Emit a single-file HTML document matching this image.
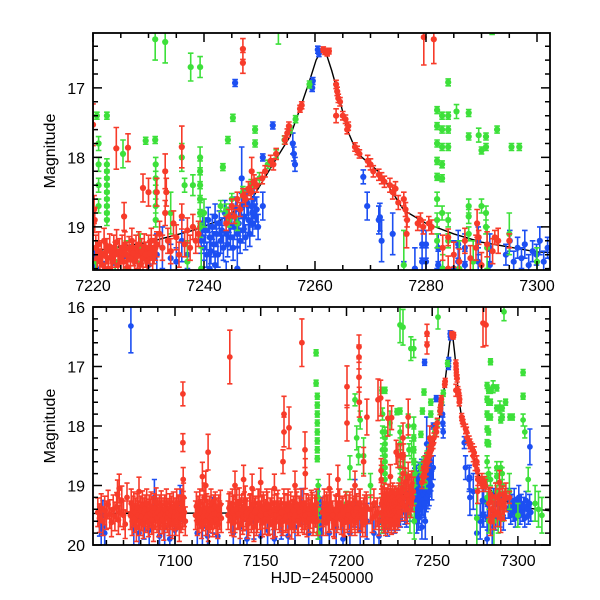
<!DOCTYPE html>
<html><head><meta charset="utf-8">
<style>
html,body{margin:0;padding:0;background:#fff;}
svg{display:block;font-family:"Liberation Sans",sans-serif;}
</style></head>
<body>
<svg id="chart" width="600" height="600" viewBox="0 0 600 600" xmlns="http://www.w3.org/2000/svg">
<defs>
<clipPath id="clipTop"><rect x="93" y="33" width="457" height="237"/></clipPath>
<clipPath id="clipBot"><rect x="93" y="307" width="457" height="238"/></clipPath>
</defs>
<rect width="600" height="600" fill="#fff"/>
<g id="topData" clip-path="url(#clipTop)"></g>
<g id="botData" clip-path="url(#clipBot)"></g>
<g id="axes"></g>
<text x="55" y="151" transform="rotate(-90 55 151)" text-anchor="middle" font-size="16">Magnitude</text>
<text x="55" y="426" transform="rotate(-90 55 426)" text-anchor="middle" font-size="16">Magnitude</text>
<text x="322" y="583" text-anchor="middle" font-size="16">HJD−2450000</text>
</svg>
<script>
// ---------- data ----------
const modelT=[7050,7150,7200,7220,7230,7238,7243,7246,7249,7252.4,7255.5,7257.3,7259,7260.2,7261,7262,7263,7264,7265.8,7267.6,7271.7,7276,7280,7285,7290,7300,7320];
const modelM=[19.47,19.46,19.42,19.35,19.22,19.05,18.9,18.75,18.55,18.1,17.7,17.3,16.9,16.6,16.48,16.5,16.75,17.03,17.6,17.94,18.22,18.76,18.95,19.1,19.22,19.36,19.43];

const redObs=[
[7055,19.45],[7056,19.55],[7057,19.38],[7058,19.6],[7059,19.42],[7060,19.5],[7061,19.32],[7062,19.48],[7063,19.62],[7064,19.4],[7065,19.52],[7066,19.36],[7066.5,19.15],[7067,19.58],[7067.5,19.05],[7068,19.45],[7069,19.25],[7070,19.5],[7071,19.65],[7072,19.2],
[7074,19.5],[7074.5,19.3],[7075,19.6],[7075.5,19.42],[7076,19.35],[7076.5,19.55],[7077,19.45],[7077.5,19.7],[7078,19.38],[7078.5,19.5],[7079,19.1],[7079.5,19.6],[7080,19.42],[7080.5,19.52],[7081,19.33],[7081.5,19.65],[7082,19.45],[7082.5,19.4],[7083,19.55],[7083.5,19.3],[7084,19.5],[7084.5,19.62],[7085,19.4],[7085.5,19.47],[7086,19.35],[7086.5,19.58],[7087,19.43],[7087.5,19.7],[7088,19.38],[7088.5,19.5],[7089,19.28],[7089.5,19.55],[7090,19.45],[7090.5,19.62],[7091,19.4],[7091.5,19.5],[7092,19.33],[7092.5,19.57],[7093,19.45],[7093.5,19.68],[7094,19.4],[7094.5,19.5],[7095,19.3],[7095.5,19.55],[7096,19.46],[7096.5,19.6],[7097,19.38],[7097.5,19.5],[7098,19.42],[7098.5,19.65],[7099,19.35],[7099.5,19.52],[7100,19.45],[7100.5,19.6],[7101,19.3],[7101.5,19.5],[7102,19.42],[7102.5,19.7],[7103,19.4],[7103.5,19.55],[7104,19.3],[7104.5,19.5],[7105,19.2],[7105.5,19.45],[7106,19.6],
[7104.6,17.46,0.2],[7104.6,18.28,0.15],[7104.8,18.9,0.2],
[7112,19.5],[7112.5,19.35],[7113,19.6],[7113.5,19.42],[7114,19.55],[7114.5,19.3],[7115,19.48],[7115.5,19.65],[7116,19.4],[7116.5,19.52],[7117,19.2],[7117.5,19.45],[7118,19.6],[7118.5,19.38],[7119,19.5],[7119.5,19.7],[7120,19.42],[7120.5,19.55],[7121,19.3],[7121.5,19.5],[7122,19.62],[7122.5,19.4],[7123,19.48],[7123.5,19.35],[7124,19.58],[7124.5,19.45],[7125,19.65],[7125.5,19.4],[7126,19.5],[7126.5,19.32],[7127,19.55],
[7116,18.85],[7118,19.0],[7119.3,18.44,0.3],
[7131,19.5],[7131.5,19.38],[7132,19.35],[7132.5,19.55],[7133,19.6],[7133.5,19.3],[7134,19.42],[7134.5,19.62],[7135,19.55],[7135.5,19.4],[7136,19.3],[7136.5,19.5],[7137,19.48],[7137.5,19.28],[7138,19.65],[7138.5,19.45],[7139,19.4],[7139.5,19.58],[7140,19.52],[7140.5,19.35],[7141,19.25],[7141.5,19.5],[7142,19.45],[7142.5,19.65],[7143,19.6],[7143.5,19.4],[7144,19.38],[7144.5,19.55],[7145,19.5],[7145.5,19.32],[7146,19.7],[7146.5,19.45],[7147,19.42],[7147.5,19.6],[7148,19.55],[7148.5,19.3],[7149,19.3],[7149.5,19.5],[7150,19.5],[7150.5,19.42],[7151,19.62],[7151.5,19.35],[7152,19.4],[7152.5,19.58],[7153,19.48],[7153.5,19.3],[7154,19.35],[7154.5,19.6],[7155,19.58],[7155.5,19.45],[7156,19.45],[7156.5,19.3],[7157,19.65],[7157.5,19.5],[7158,19.4],[7158.5,19.62],[7159,19.5],[7159.5,19.38],[7160,19.32],[7160.5,19.5],[7161,19.55],[7161.5,19.45],[7162,19.45],[7162.5,19.6],[7163,19.6],[7163.5,19.3],[7164,19.38],[7164.5,19.55],[7165,19.52],[7165.5,19.4],[7166,19.3],[7166.5,19.62],[7167,19.5],[7167.5,19.35],[7168,19.66],[7168.5,19.48],[7169,19.42],[7169.5,19.55],[7170,19.5],[7170.5,19.3],[7171,19.35],[7171.5,19.6],[7172,19.6],[7172.5,19.42],[7173,19.45],[7173.5,19.3],[7174,19.55],[7174.5,19.5],[7175,19.3],[7175.5,19.58],[7176,19.5],[7176.5,19.38],[7177,19.62],[7177.5,19.45],[7178,19.4],[7178.5,19.55],[7179,19.48],[7179.5,19.32],[7180,19.36],[7180.5,19.6],[7181,19.55],[7181.5,19.4],[7182,19.45],[7182.5,19.3],[7183,19.6],
[7132,16.84,0.45],[7135,19.0],[7140,18.9],[7145,19.05],[7150,18.95],[7158,19.05],[7163.6,17.8,0.3],[7163.6,18.1,0.25],[7163,18.6,0.2],[7166.5,18.03,0.35],[7170,19.0],[7174,16.6,0.4],[7175.8,18.4,0.3],[7176,18.8,0.25],
[7186,19.45],[7186.5,19.6],[7187,19.3],[7187.5,19.42],[7188,19.6],[7188.5,19.35],[7189,19.4],[7189.5,19.55],[7190,19.55],[7190.5,19.3],[7191,19.35],[7191.5,19.5],[7192,19.5],[7192.5,19.62],[7193,19.65],[7193.5,19.4],[7194,19.42],[7194.5,19.55],[7195,19.5],[7195.5,19.3],[7196,19.3],[7196.5,19.5],[7197,19.58],[7197.5,19.42],[7198,19.45],[7198.5,19.6],[7199,19.62],[7199.5,19.35],[7200,19.4],[7200.5,19.55],[7201,19.5],[7201.5,19.4],[7202,19.35],[7202.5,19.6],[7203,19.55],[7203.5,19.3],[7204,19.45],[7204.5,19.5],[7205,19.6],[7205.5,19.42],[7206,19.38],[7206.5,19.55],[7207,19.5],[7207.5,19.3],[7208,19.3],[7208.5,19.5],[7209,19.55],[7209.5,19.62],[7210,19.45],[7210.5,19.4],[7211,19.62],[7211.5,19.35],[7212,19.4],
[7200.3,17.34,0.35],[7200.3,17.95,0.3],[7207.3,16.67,0.2],[7207.3,16.84,0.2],[7207.3,17.18,0.25],[7207.5,17.6,0.25],[7211.9,17.85,0.3],[7195,18.9],[7190,19.05],[7205,19.0],[7210,18.6],
[7214,19.4],[7215,19.55],[7216,19.3],[7217,19.5],[7218,19.45],[7219,19.6],[7218.4,17.56,0.35],[7224.2,17.87,0.3],
[7220,17.53,0.3],[7220.2,18.75,0.2],[7220.3,18.9],
[7220.5,19.3],[7220.75,19.45],[7221,19.25],[7221.25,19.5],[7221.5,19.38],[7221.75,19.55],[7222,19.2],[7222.25,19.42],[7222.5,19.35],[7222.75,19.6],[7223,19.28],[7223.25,19.45],[7223.5,19.5],[7223.75,19.3],[7224,19.4],[7224.25,19.22],[7224.5,19.55],[7224.75,19.35],[7225,19.45],[7225.25,19.3],[7225.5,19.5],[7225.75,19.25],[7226,19.4],[7226.25,19.58],[7226.5,19.32],[7226.75,19.45],[7227,19.2],[7227.25,19.38],[7227.5,19.5],[7227.75,19.3],[7228,19.42],[7228.25,19.25],[7228.5,19.55],[7228.75,19.35],[7229,19.45],[7229.25,19.28],[7229.5,19.4],[7229.75,19.5],[7230,19.3],[7230.25,19.38],[7230.5,19.2],[7230.75,19.45],[7231,19.35],[7231.25,19.3],[7231.5,19.25],
[7232,19.1],[7232.5,19.3],[7233,18.8],[7233.5,19.2],[7234,19.35],[7234.5,18.95],[7235,19.15],[7235.5,19.4],[7236,18.85],[7236.5,19.25],[7237,19.05],[7237.5,19.3],[7238,19.0],[7238.5,19.2],[7239,19.1],
[7225.6,18.85,0.2],[7226.3,17.86,0.2],[7229,18.44,0.2],[7230,18.5,0.2],[7231.5,18.5,0.2],[7233,18.2,0.25],[7233.2,18.5,0.2],[7236,17.85,0.3],
[7244,18.95,0.1],[7244.5,18.85,0.1],[7245,18.7,0.1],[7245.5,18.85,0.1],[7246,18.6,0.1],[7246.5,18.75,0.1],[7247,18.55,0.1],[7247.5,18.6,0.1],[7248,18.45,0.1],[7248.5,18.5,0.1],[7249,18.35,0.1],[7249.5,18.4,0.1],[7250.5,18.3,0.08],[7251,18.2,0.08],[7252,18.05,0.08],[7252.5,18.1,0.08],[7253,17.95,0.08],[7254.6,17.75,0.06],[7255,17.65,0.06],[7255.3,17.55,0.06],[7257.3,17.3,0.05],[7257.6,17.25,0.05],
[7247,16.44,0.15],[7247,16.64,0.15],[7248.6,18.2,0.2],
[7261.5,16.45,0.04],[7261.8,16.48,0.04],[7262.2,16.5,0.04],[7262.5,16.47,0.04],
[7263.8,16.95,0.06],[7264,17.05,0.06],[7264.2,17.15,0.06],[7264.5,17.2,0.06],[7263.8,17.4,0.1],[7265,17.4,0.06],[7265.5,17.45,0.06],[7265.8,17.6,0.06],[7266,17.55,0.06],[7267.2,17.85,0.06],[7267.6,17.9,0.06],[7268,17.95,0.06],[7269.5,18.05,0.08],[7270,18.1,0.08],[7270.5,18.2,0.08],[7271.5,18.25,0.08],[7272,18.3,0.08],[7272.5,18.35,0.08],[7273.5,18.4,0.1],[7274,18.5,0.1],[7274.5,18.45,0.1],[7275,18.65,0.1],[7276,18.6,0.1],[7276.3,18.75,0.1],[7276.6,18.9,0.1],[7276.5,19.1,0.2],[7278.5,18.95,0.1],[7279,18.9,0.1],[7279.5,19.0,0.1],[7280.5,18.95,0.1],[7281,19.0,0.1],
[7281.4,16.3,0.35],[7279.6,16.27,0.4],
[7283,19.3],[7284,19.15,0.12],[7284,19.6],[7285,19.4],[7286,19.5],[7287,19.2],[7288,19.45],[7289.2,18.95,0.2],[7289,19.3],[7289.5,19.15,0.1],[7290,19.55],[7291,19.25],[7292,19.35],[7292.4,19.15,0.1],[7293,19.2],[7295,19.2,0.1]
];

const blueObs=[
[7056,19.6,0.25],[7057,19.7,0.3],[7058,19.5,0.25],[7059,19.8,0.3],[7074.3,16.32,0.45],
[7076,19.7,0.3],[7079,19.8,0.3],[7082,19.6,0.3],[7085,19.75,0.3],[7088,19.2,0.3],[7091,19.85,0.3],[7094,19.7,0.3],[7097,19.9,0.3],[7100,19.75,0.3],[7103,19.3,0.3],
[7113,19.8,0.3],[7116,19.7,0.3],[7119,19.85,0.3],[7122,19.5,0.3],[7125,19.85,0.3],
[7134,19.8,0.3],[7138,19.7,0.3],[7142,19.9,0.3],[7146,19.6,0.3],[7150,19.85,0.3],[7154,19.75,0.3],[7158,19.9,0.3],[7162,19.6,0.3],[7166,19.85,0.3],[7170,19.7,0.3],[7174,19.35,0.3],[7178,19.8,0.3],
[7183,19.4,0.3],[7183.5,19.6,0.3],[7184,19.3,0.3],[7184.5,19.7,0.3],[7185,19.5,0.3],[7185.5,19.8,0.3],
[7190,19.8,0.3],[7194,19.7,0.3],[7198,19.9,0.3],[7202,19.8,0.3],[7205,19.3,0.4],[7208,19.75,0.3],[7212,19.6,0.3],[7216,19.8,0.3],[7219,19.85,0.3],
[7220.3,19.5,0.15],[7220.6,19.6,0.15],[7222,19.65,0.15],[7224,19.7,0.15],[7226,19.6,0.15],[7228,19.65,0.15],[7230,19.55,0.2],[7231.5,19.4,0.3],[7232.5,19.3,0.3],[7234,19.45,0.2],[7235,19.5,0.2],[7236,19.2,0.3],[7237,19.4,0.2],
[7239.5,19.2],[7239.75,18.95],[7240,19.3],[7240.25,19.05],[7240.5,19.4],[7240.75,18.9],[7241,19.15],[7241.25,19.35],[7241.5,19.0],[7241.75,19.25],[7242,18.85],[7242.25,19.1],[7242.5,19.4],[7242.75,18.95],[7243,19.2],[7243.25,19.05],[7243.5,19.3],[7243.75,18.8],[7244,19.1],[7244.25,19.25],[7244.5,18.9],[7244.75,19.15],[7245,18.85],[7245.25,19.3],[7245.5,19.0],[7245.75,18.75],[7246,19.1],[7246.25,18.95],[7246.5,19.2],[7246.75,18.7],[7247,19.05],[7247.25,18.85],[7247.5,19.15],[7247.75,18.65],[7248,18.9],[7248.25,19.1],[7248.5,18.7],[7248.75,18.95],[7249,18.6],[7249.25,18.85],[7249.5,18.75],[7249.75,19.0],
[7241,19.6,0.2],[7242,19.55,0.2],[7244,19.7,0.2],[7246,19.6,0.3],[7246.8,18.3,0.45],[7248.7,18.8,0.2],
[7245.6,16.93,0.05],[7250.6,18.0,0.05],[7250.6,18.7,0.2],[7252.4,17.54,0.05],[7256,17.8,0.15],[7256.4,18.1,0.1],[7256.2,17.95,0.1],
[7259.5,17.0,0.05],[7259.6,16.9,0.05],[7260.5,16.45,0.05],[7260.7,16.5,0.05],
[7268.7,18.28,0.1],[7269.4,18.7,0.2],[7271.7,18.86,0.2],[7271.5,18.9,0.2],[7272,19.2,0.3],[7274,19.1,0.3],[7276,19.8,0.3],[7278,19.6,0.3],
[7279.3,19.25,0.2],[7279.3,19.5,0.2],[7280,19.25,0.2],[7280,19.5,0.2],[7282.2,19.3,0.2],[7282.2,19.55,0.2],[7285.8,19.25,0.2],[7285.8,19.5,0.2],[7287,19.3,0.2],[7287,19.55,0.2],[7289.4,19.2,0.2],[7289.4,19.5,0.2],[7291.5,19.3,0.2],[7291.5,19.55,0.2],[7282,19.9,0.3],[7285,19.6,0.4],
[7294.4,19.4,0.15],[7295.1,19.2,0.15],[7295.8,19.5,0.15],[7296.5,19.3,0.15],[7297.2,19.45,0.15],[7297.8,19.25,0.2],[7298.5,19.55,0.15],[7299.2,19.35,0.15],[7299.9,19.4,0.15],[7300.5,19.2,0.2],[7301.2,19.5,0.15],[7301.9,19.3,0.15],[7302.6,19.45,0.15],[7303.3,19.35,0.15],[7304,19.55,0.15],[7304.7,19.25,0.15],[7305.4,19.4,0.15],[7306.1,19.5,0.15],[7306.8,19.3,0.15],[7307.5,19.45,0.15],[7307,18.35,0.3]
];

const greenObs=[
[7220.5,19.5,0.3],[7222.5,17.4,0.05],[7222.5,18.1,0.08],[7222.5,18.2,0.08],[7222.5,18.3,0.08],[7222.5,18.4,0.08],[7222.5,18.5,0.08],[7222.5,18.6,0.08],[7222.5,18.7,0.08],[7222.5,18.8,0.08],[7222.5,18.9,0.08],
[7224,19.5,0.2],[7225.4,17.95,0.2],[7226,19.4,0.2],[7228.5,19.3,0.2],[7231.2,17.75,0.05],[7231.3,18.1,0.1],[7231.3,18.3,0.1],[7231.3,18.5,0.1],[7231.3,18.7,0.1],[7231.3,18.9,0.1],
[7233,16.34,0.3],[7234,18.8,0.3],[7236.5,18.4,0.1],[7237,19.5,0.3],[7239.3,16.7,0.15],[7239.3,18.0,0.15],[7239.3,18.2,0.15],[7239.3,18.4,0.15],[7239.3,18.6,0.15],[7239.3,18.8,0.15],[7239.3,19.0,0.15],[7239.5,19.6,0.3],
[7243.4,18.14,0.05],[7244.3,17.75,0.05],[7245.2,17.43,0.05],[7249.2,17.6,0.05],[7249.2,17.8,0.05],
[7243,18.7,0.08],[7244,18.75,0.08],[7245,18.6,0.08],[7244.5,18.9,0.1],[7246,18.95,0.1],[7247,18.5,0.08],[7248.5,18.4,0.08],[7250,18.3,0.08],[7251.5,18.1,0.06],[7253,17.95,0.06],[7254.5,17.75,0.06],[7255.5,17.6,0.05],[7256.5,17.45,0.05],[7259,16.95,0.05],
[7282,17.32,0.05],[7282,17.55,0.05],[7282,17.8,0.05],[7282,18.05,0.05],[7282,18.28,0.05],[7282,18.6,0.1],[7282,18.9,0.1],[7282,19.2,0.1],
[7282.9,17.4,0.05],[7282.9,17.6,0.05],[7282.9,17.85,0.05],[7282.9,18.1,0.05],[7282.9,18.3,0.05],[7282.9,18.8,0.1],
[7284,16.92,0.05],[7284,17.4,0.05],[7284,17.6,0.05],[7284,17.85,0.05],[7284,18.9,0.1],[7284,19.2,0.1],
[7287.7,17.36,0.05],[7287.7,17.7,0.05],[7287.7,18.7,0.1],[7287.7,18.85,0.1],[7287.7,19.1,0.1],
[7290,17.9,0.05],[7290,18.7,0.1],[7290.8,17.7,0.05],[7290.8,17.85,0.05],[7290.8,18.8,0.1],[7290.8,19.0,0.1],
[7292.8,17.6,0.05],[7296.8,17.85,0.05],[7295,19.1,0.3],
[7276,19.55,0.5],[7283,19.6,0.2],[7286,19.6,0.4],[7288.5,19.5,0.3],[7291,19.3,0.3],
[7182.3,16.77,0.05],[7182.3,17.28,0.05],[7183,17.5,0.05],[7183,17.65,0.05],[7183,17.8,0.05],[7183,17.95,0.05],[7183,18.1,0.05],[7183,18.25,0.05],[7183,18.4,0.05],[7183,18.55,0.05],[7183.5,19.0,0.1],[7183.5,19.2,0.1],[7183.5,19.4,0.1],[7183.5,19.6,0.1],[7183.5,19.8,0.1],
[7200,19.3,0.2],[7202,18.7,0.2],[7205,17.56,0.1],[7206,18.2,0.2],[7207,18.5,0.15],[7208,17.9,0.15],[7210,18.5,0.3],[7214,19.0,0.2],
[7220.7,17.4,0.05],[7221,17.8,0.1],[7221,18.1,0.1],[7221,18.4,0.1],[7221,18.7,0.1],[7229.5,17.76,0.05],[7231.2,16.3,0.3],[7237.6,16.7,0.2],[7236,18.0,0.2],[7238,18.4,0.15],[7240,18.8,0.2],[7253.4,16.17,0.2],
[7285.5,17.34,0.1],[7289.5,17.68,0.1],[7291.9,16.08,0.15],[7295.4,17.85,0.05],[7303,17.1,0.05],[7303,17.5,0.05],[7303,17.9,0.1],[7304,18.1,0.1],[7306,18.9,0.2],[7300,19.5,0.2],[7310,19.3,0.3],[7312,19.4,0.3],[7314,19.5,0.3]
];

const topXTicks=[7220,7240,7260,7280,7300];
const topYTicks=[17,18,19];
const botXTicks=[7100,7150,7200,7250,7300];
const botYTicks=[16,17,18,19,20];

// ---------- panels / scales ----------
const NS="http://www.w3.org/2000/svg";
const topP={x0:93,x1:550,y0:33,y1:270,t0:7220,t1:7302.34,m0:16.21,m1:19.62,minX:5,minY:0.2,r:3.1,cap:2.8,defE:0.18};
const botP={x0:93,x1:550,y0:307,y1:545,t0:7052.2,t1:7318.7,m0:16,m1:20,minX:10,minY:0.2,r:2.9,cap:2.6,defE:0.24};
function sx(p,t){return p.x0+(t-p.t0)/(p.t1-p.t0)*(p.x1-p.x0);}
function sy(p,m){return p.y0+(m-p.m0)/(p.m1-p.m0)*(p.y1-p.y0);}
function mk(tag,attrs,parent){const e=document.createElementNS(NS,tag);for(const k in attrs)e.setAttribute(k,attrs[k]);parent.appendChild(e);return e;}

function drawSeries(p,g,obs,color,name){
  const sg=mk('g',{},g);
  
  
  let d='';
  obs.forEach(o=>{
    const e=o.length>2?o[2]:p.defE;
    const x=sx(p,o[0]),ya=sy(p,o[1]-e),yb=sy(p,o[1]+e);
    d+=`M${x.toFixed(1)},${ya.toFixed(1)}V${yb.toFixed(1)}M${(x-p.cap).toFixed(1)},${ya.toFixed(1)}h${2*p.cap}M${(x-p.cap).toFixed(1)},${yb.toFixed(1)}h${2*p.cap}`;
  });
  const eb=mk('path',{d:d,stroke:color,'stroke-width':1.6,fill:'none'},sg);
  
  
  obs.forEach(o=>{
    const c=mk('circle',{cx:sx(p,o[0]).toFixed(1),cy:sy(p,o[1]).toFixed(1),r:p.r,fill:color},sg);
    
    
  });
}
function drawModel(p,g){
  let d='';
  modelT.forEach((t,i)=>{d+=(i?'L':'M')+sx(p,t).toFixed(1)+','+sy(p,modelM[i]).toFixed(1);});
  const l=mk('path',{d:d,stroke:'#000','stroke-width':1.4,fill:'none'},g);
  
  
}
function drawAxes(p,xt,yt,prefix){
  const ax=document.getElementById('axes');
  const fr=mk('rect',{x:p.x0,y:p.y0,width:p.x1-p.x0,height:p.y1-p.y0,fill:'none',stroke:'#000','stroke-width':1.8},ax);
  
  
  let d='';
  const majX=xt[1]-xt[0];
  for(let t=Math.ceil(p.t0/p.minX)*p.minX;t<=p.t1;t+=p.minX){
    const x=sx(p,t);const L=(Math.abs(t/majX-Math.round(t/majX))<1e-6)?9:5;
    d+=`M${x.toFixed(1)},${p.y0}v${L}M${x.toFixed(1)},${p.y1}v${-L}`;
  }
  for(let m=Math.ceil(p.m0/p.minY-1e-9)*p.minY;m<=p.m1+1e-9;m+=p.minY){
    const y=sy(p,m);const L=(Math.abs(m-Math.round(m))<1e-6)?9:5;
    d+=`M${p.x0},${y.toFixed(1)}h${L}M${p.x1},${y.toFixed(1)}h${-L}`;
  }
  mk('path',{d:d,stroke:'#000','stroke-width':1.5,fill:'none'},ax);
  xt.forEach(t=>{
    const tx=mk('text',{x:sx(p,t).toFixed(1),y:p.y1+21,'text-anchor':'middle','font-size':16},ax);
    tx.textContent=t;
    
    
  });
  yt.forEach(m=>{
    const ty=mk('text',{x:p.x0-8,y:(sy(p,m)+6).toFixed(1),'text-anchor':'end','font-size':16},ax);
    ty.textContent=m;
    
    
  });
}
[[topP,'topData'],[botP,'botData']].forEach(([p,id])=>{
  const g=document.getElementById(id);
  drawModel(p,g);
  drawSeries(p,g,blueObs,'#1d4ff2','blue-series');
  drawSeries(p,g,greenObs,'#3de03a','green-series');
  drawSeries(p,g,redObs,'#f73b2a','red-series');
});
drawAxes(topP,topXTicks,topYTicks,'top');
drawAxes(botP,botXTicks,botYTicks,'bottom');
</script>
</body></html>
